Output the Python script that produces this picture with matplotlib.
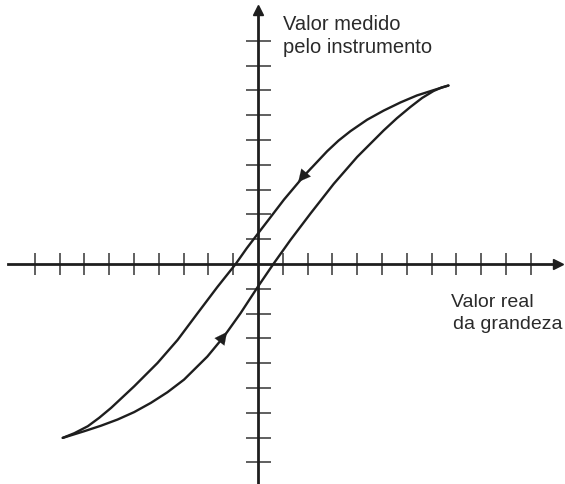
import matplotlib
matplotlib.use("Agg")
import matplotlib.pyplot as plt

plt.rcParams['font.family'] = ['Liberation Sans', 'DejaVu Sans']

# Descending branch (upper curve)
down_x = [7.68, 7.10, 6.41, 5.75, 5.07, 4.40, 3.73, 3.25, 2.79, 1.85, 1.05, 0.40, 0.00, -0.45, -0.90,
          -1.64, -2.44, -3.24, -4.05, -4.99, -5.92, -6.40, -6.86, -7.40, -7.87]
down_y = [7.20, 7.02, 6.80, 6.52, 6.19, 5.82, 5.36, 4.98, 4.55, 3.55, 2.60, 1.75, 1.23, 0.64, 0.00,
          -0.93, -1.99, -3.06, -3.99, -4.93, -5.80, -6.20, -6.54, -6.82, -7.01]

# Ascending branch (lower curve)
up_x = [-7.87, -7.00, -6.33, -5.66, -4.99, -4.32, -3.65, -2.98, -2.04, -1.37, -0.70, 0.00, 0.62,
        1.31, 2.12, 3.06, 4.00, 5.07, 5.60, 6.14, 6.62, 7.08, 7.40, 7.68]
up_y = [-7.01, -6.74, -6.52, -6.27, -5.97, -5.60, -5.17, -4.66, -3.73, -2.92, -1.98, -0.91, 0.00,
        0.97, 2.04, 3.24, 4.32, 5.39, 5.88, 6.33, 6.70, 6.98, 7.12, 7.20]

x_ticks = [t for t in range(-9, 12) if t != 0]
y_ticks = [t for t in range(-8, 10) if t != 0]

ink = '#1e1e1e'

fig = plt.figure(figsize=(5.65, 4.85), dpi=100)
ax = fig.add_axes([0, 0, 1, 1])
ax.set_xlim(-10.40, 12.38)
ax.set_ylim(-8.87, 10.69)

for s in ['top', 'right']:
    ax.spines[s].set_visible(False)
ax.spines['left'].set_position('zero')
ax.spines['bottom'].set_position('zero')
ax.spines['bottom'].set_bounds(-10.08, 12.0)
ax.spines['left'].set_bounds(-8.87, 10.1)
for s in ['left', 'bottom']:
    ax.spines[s].set_linewidth(2.0)
    ax.spines[s].set_color(ink)
ax.set_xticks(x_ticks)
ax.set_yticks(y_ticks)
ax.set_xticklabels([])
ax.set_yticklabels([])
ax.tick_params(axis='x', direction='inout', length=16, width=1.2, color='#444444')
ax.tick_params(axis='y', direction='inout', length=18, width=1.2, color='#444444')

# axis arrowheads
ax.plot([12.1], [0], marker='>', markersize=7, color=ink, clip_on=False)
ax.plot([0], [10.25], marker='^', markersize=7, color=ink, clip_on=False)

ax.plot(down_x, down_y, color=ink, lw=1.7, solid_joinstyle='round', solid_capstyle='round')
ax.plot(up_x, up_y, color=ink, lw=1.7, solid_joinstyle='round', solid_capstyle='round')

# direction arrows on the curves
ax.annotate('', xy=(1.55, 3.22), xytext=(2.2, 4.0),
            arrowprops=dict(arrowstyle='-|>', color=ink, lw=0.1, mutation_scale=22))
ax.annotate('', xy=(-1.18, -2.65), xytext=(-1.75, -3.4),
            arrowprops=dict(arrowstyle='-|>', color=ink, lw=0.1, mutation_scale=22))

tc = '#2a2a2a'
fs = 14.5
ax.text(1.0, 9.5, 'Valor medido', fontsize=fs, color=tc, ha='left', va='baseline')
ax.text(1.0, 8.55, 'pelo instrumento', fontsize=fs, color=tc, ha='left', va='baseline')
fs2 = 14
ax.text(7.8, -1.7, 'Valor real', fontsize=fs2, color=tc, ha='left', va='baseline')
ax.text(7.85, -2.57, 'da grandeza', fontsize=fs2, color=tc, ha='left', va='baseline')

fig.savefig('out.png', dpi=100)
